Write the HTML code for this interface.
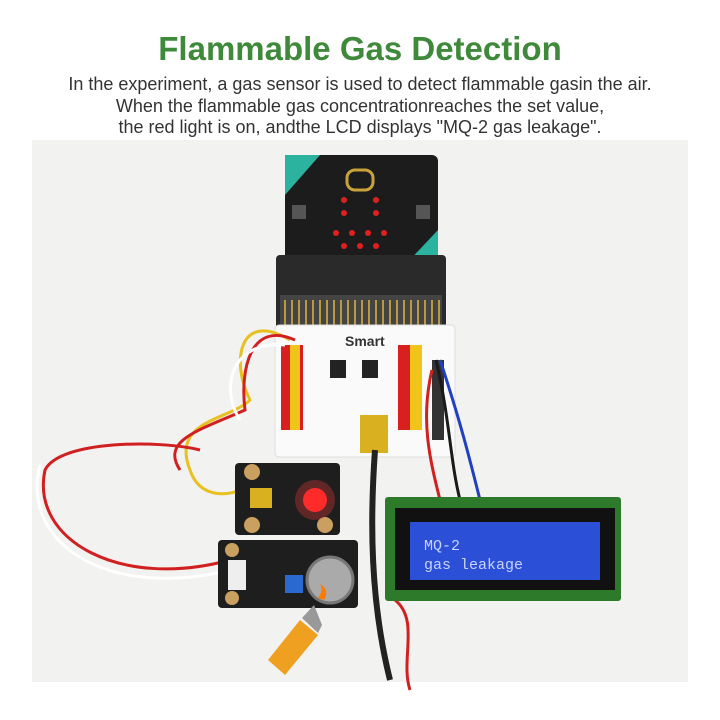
<!DOCTYPE html>
<html><head><meta charset="utf-8"><style>
body{margin:0;width:720px;height:720px;background:#fff;position:relative;overflow:hidden;font-family:"Liberation Sans",sans-serif}
.t{position:absolute;left:0;width:720px;text-align:center}
.a{position:absolute}
</style></head><body>
<div class="t" style="top:30px;font-size:33px;font-weight:bold;color:#3f8a3a">Flammable Gas Detection</div>
<div class="t" style="top:74px;font-size:18px;color:#333;line-height:21.5px">In the experiment, a gas sensor is used to detect flammable gasin the air.<br>When the flammable gas concentrationreaches the set value,<br>the red light is on, andthe LCD displays "MQ-2 gas leakage".</div>
<div class="a" style="left:32px;top:140px;width:656px;height:542px;background:#f2f2f1"></div>
<svg class="a" style="left:0;top:0" width="720" height="720">
<rect x="285" y="155" width="153" height="110" rx="6" fill="#1c1c1c"/>
<polygon points="285,155 320,155 285,195" fill="#2bb3a0"/>
<polygon points="438,230 438,265 405,265" fill="#2bb3a0"/>
<rect x="347" y="170" width="26" height="20" rx="8" fill="none" stroke="#c9a23a" stroke-width="3"/>
<g fill="#e02020">
<circle cx="344" cy="200" r="3"/><circle cx="376" cy="200" r="3"/>
<circle cx="344" cy="213" r="3"/><circle cx="376" cy="213" r="3"/>
<circle cx="336" cy="233" r="3"/><circle cx="352" cy="233" r="3"/><circle cx="368" cy="233" r="3"/><circle cx="384" cy="233" r="3"/>
<circle cx="344" cy="246" r="3"/><circle cx="360" cy="246" r="3"/><circle cx="376" cy="246" r="3"/>
</g>
<rect x="292" y="205" width="14" height="14" fill="#555"/><rect x="416" y="205" width="14" height="14" fill="#555"/>
<rect x="276" y="255" width="170" height="75" rx="4" fill="#2a2a2a"/>
<rect x="280" y="295" width="162" height="30" fill="#444"/>
<g stroke="#b89a40" stroke-width="2"><path d="M285 300v25M292 300v25M299 300v25M306 300v25M313 300v25M320 300v25M327 300v25M334 300v25M341 300v25M348 300v25M355 300v25M362 300v25M369 300v25M376 300v25M383 300v25M390 300v25M397 300v25M404 300v25M411 300v25M418 300v25M425 300v25M432 300v25M439 300v25"/></g>
<rect x="275" y="325" width="180" height="132" rx="4" fill="#fafafa" stroke="#ddd"/>
<text x="345" y="346" font-family="Liberation Sans,sans-serif" font-weight="bold" font-size="14" fill="#333">Smart</text>
<rect x="281" y="345" width="22" height="85" fill="#d92020"/>
<rect x="290" y="345" width="10" height="85" fill="#f0c419"/>
<rect x="398" y="345" width="12" height="85" fill="#d92020"/>
<rect x="410" y="345" width="12" height="85" fill="#f0c419"/>
<rect x="360" y="415" width="28" height="38" fill="#d8b020"/>
<rect x="330" y="360" width="16" height="18" fill="#222"/><rect x="362" y="360" width="16" height="18" fill="#222"/>
<rect x="432" y="360" width="12" height="80" fill="#333"/>
<g fill="none" stroke-width="3">
<path d="M290 340 C240 310,230 360,250 400 C230 420,170 420,190 470 C200 500,230 495,240 490" stroke="#e8c020"/>
<path d="M295 340 C250 320,240 370,245 410 C200 430,160 440,180 470" stroke="#d02020"/>
<path d="M285 345 C230 340,220 390,240 420" stroke="#fff"/>
<path d="M230 560 C120 590,30 540,45 470 C60 440,160 440,200 450" stroke="#d02020"/>
<path d="M230 570 C110 600,20 545,40 465" stroke="#fff"/>
<path d="M440 360 C460 420,470 460,480 500" stroke="#2040c0"/>
<path d="M436 360 C450 420,450 460,460 500" stroke="#1a1a1a"/>
<path d="M432 370 C420 420,430 460,440 500" stroke="#d02020"/>
<path d="M375 450 C370 520,370 600,390 680" stroke="#222" stroke-width="6"/>
<path d="M395 600 C420 620,400 660,410 690" stroke="#d02020"/>
</g>
<rect x="235" y="463" width="105" height="72" rx="4" fill="#1e1e1e"/>
<circle cx="252" cy="472" r="8" fill="#caa060"/><circle cx="252" cy="525" r="8" fill="#caa060"/><circle cx="325" cy="525" r="8" fill="#caa060"/>
<circle cx="315" cy="500" r="20" fill="#ff4040" opacity="0.3"/><circle cx="315" cy="500" r="12" fill="#ff2a2a"/>
<rect x="250" y="488" width="22" height="20" fill="#d8b020"/>
<rect x="218" y="540" width="140" height="68" rx="4" fill="#1e1e1e"/>
<circle cx="232" cy="550" r="7" fill="#caa060"/><circle cx="232" cy="598" r="7" fill="#caa060"/>
<rect x="228" y="560" width="18" height="30" fill="#eee"/>
<rect x="285" y="575" width="18" height="18" fill="#2a6ad0"/>
<circle cx="330" cy="580" r="23" fill="#aaa" stroke="#777" stroke-width="3"/>
<polygon points="268,660 300,620 318,635 285,675" fill="#f0a020"/>
<polygon points="302,618 314,605 322,625 318,633" fill="#999"/>
<path d="M318 598 q6 -8 2 -14 q10 6 4 16z" fill="#ff7a00"/>
<rect x="385" y="497" width="236" height="104" rx="3" fill="#2d7a2a"/>
<rect x="395" y="508" width="220" height="82" fill="#111"/>
<rect x="410" y="522" width="190" height="58" fill="#2c4fd8"/>
<text x="424" y="550" font-family="Liberation Mono,monospace" font-size="15" fill="#c8d4ff">MQ-2</text>
<text x="424" y="569" font-family="Liberation Mono,monospace" font-size="15" fill="#c8d4ff">gas leakage</text>
</svg>
</body></html>
